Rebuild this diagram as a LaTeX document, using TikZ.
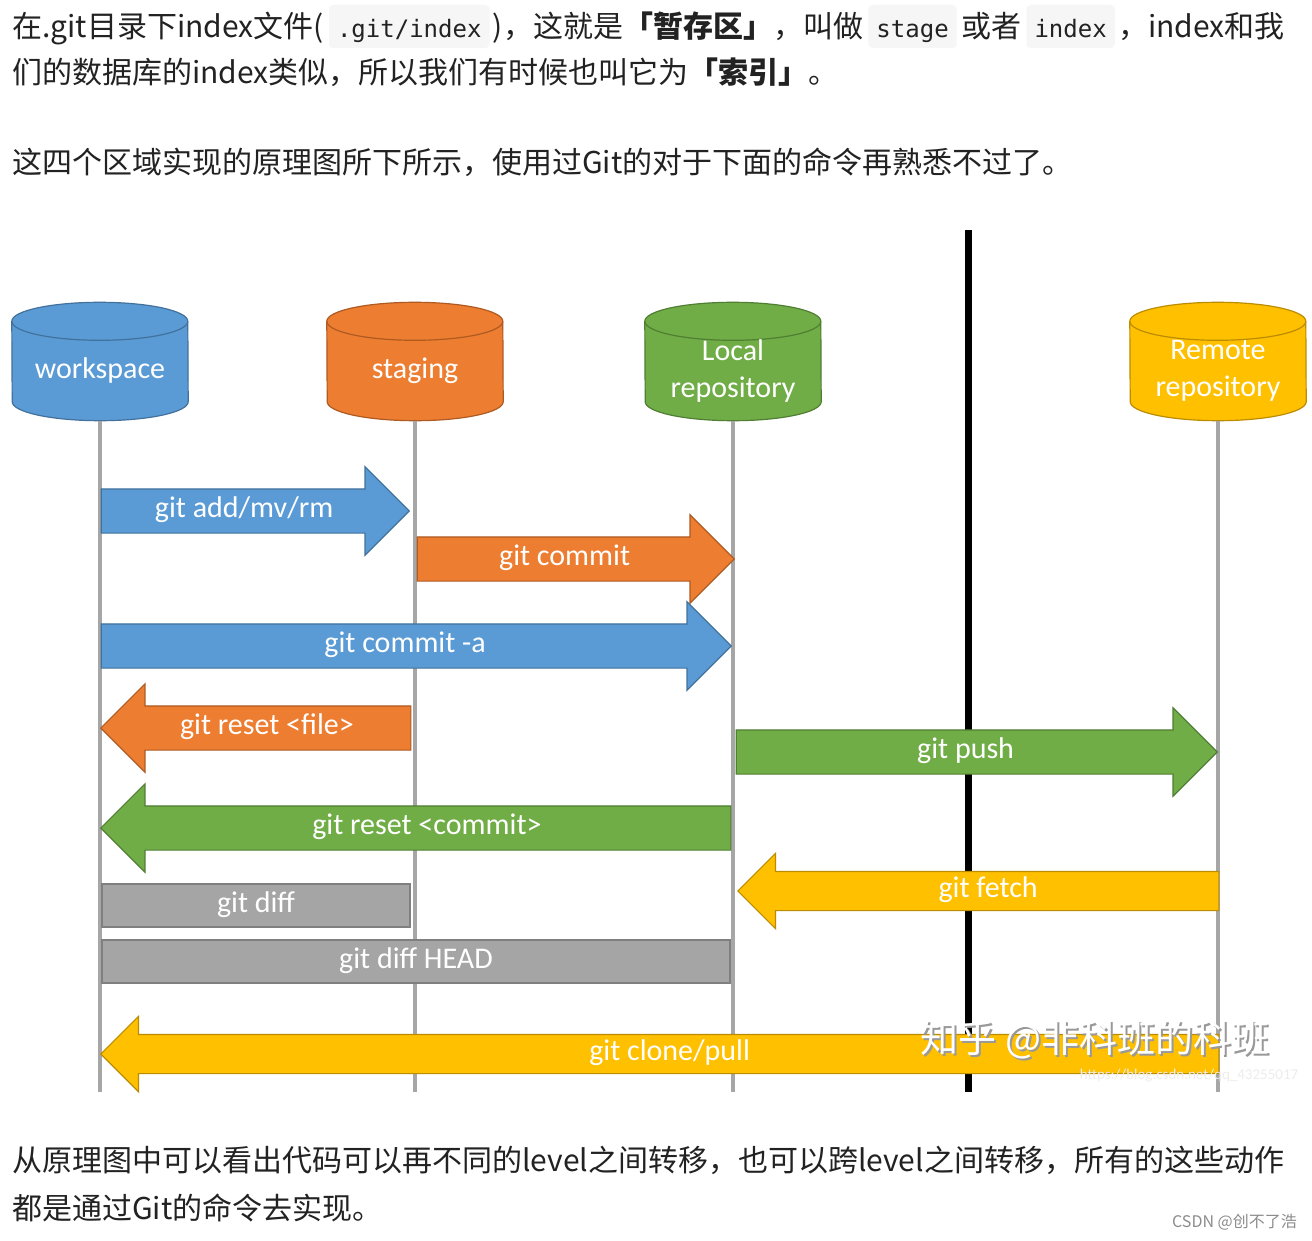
\documentclass[tikz,border=0pt]{standalone}
\usepackage{fontspec}
\setmainfont{Noto Sans CJK SC}
\newfontfamily\slidefont{Carlito}
\newfontfamily\codefont{DejaVu Sans Mono}
\usetikzlibrary{shapes.arrows,positioning}

\definecolor{wsblue}{HTML}{5B9BD5}
\definecolor{wsblueline}{HTML}{41719C}
\definecolor{stgorange}{HTML}{ED7D31}
\definecolor{stgorangeline}{HTML}{AE5A21}
\definecolor{repogreen}{HTML}{70AD47}
\definecolor{repogreenline}{HTML}{507E32}
\definecolor{remoteyellow}{HTML}{FFC000}
\definecolor{remoteyellowline}{HTML}{BC8C00}
\definecolor{diffgray}{HTML}{A5A5A5}
\definecolor{diffgrayline}{HTML}{7F7F7F}
\definecolor{lifegray}{HTML}{A6A6A6}
\definecolor{codebg}{HTML}{F6F6F6}
\definecolor{bodytext}{HTML}{222222}

\pgfdeclarelayer{background}
\pgfsetlayers{background,main}

% drum round the body of an area node: #1 node, #2 fill, #3 outline
\newcommand\storedrum[3]{%
  \filldraw[fill=#2,draw=#3,line width=1.2pt] (#1.north west)
    arc[start angle=180,end angle=0,x radius=88pt,y radius=19pt]
    -- ([yshift=19pt]#1.south east)
    arc[start angle=0,end angle=-180,x radius=88pt,y radius=19pt] -- cycle;
  \draw[#3,line width=1.2pt] (#1.north west)
    arc[start angle=180,end angle=360,x radius=88pt,y radius=19pt];}

\begin{document}
\begin{tikzpicture}
[x=1pt,y=-1pt,
 para/.style={anchor=base west,inner sep=0pt,text=bodytext,font=\fontsize{30}{36}\selectfont},
 codebox/.style={fill=codebg,rounded corners=4pt,inner xsep=8pt,inner ysep=0pt,text height=33pt,text depth=10pt,text=bodytext,font=\codefont\fontsize{24}{28}\selectfont},
 store/.style={rectangle,minimum width=176pt,minimum height=99pt,inner sep=0pt,text=white,align=center,font=\slidefont\fontsize{30}{37}\selectfont},
 cmd/.style 2 args={single arrow,single arrow head extend=22pt,fill=#1,draw=#2,line width=1.2pt,inner xsep=0pt,inner ysep=8pt,text height=20pt,text depth=7pt,text=white,font=\slidefont\fontsize{30}{36}\selectfont},
 back/.style={shape border rotate=180},
 slim/.style={inner ysep=5.5pt,single arrow head extend=18pt},
 diffbar/.style={rectangle,fill=diffgray,draw=diffgrayline,line width=1.2pt,inner ysep=8pt,text height=20pt,text depth=7pt,text=white,font=\slidefont\fontsize{30}{36}\selectfont},
 lifeline/.style={lifegray,line width=4pt},
 separator/.style={black,line width=7pt}]

\useasboundingbox (0,0) rectangle (1312,1241);
\begin{pgfonlayer}{background}
\fill[white] (0,0) rectangle (1312,1241);
\end{pgfonlayer}

% text above the picture
\node[para] (l1a) at (12,38) {在.git目录下index文件(};
\node[codebox,base right=5pt of l1a] (c1) {.git/index};
\node[para,base right=3pt of c1] (l1b) {)，这就是{\bfseries「暂存区」}，叫做};
\node[codebox,base right=5pt of l1b] (c2) {stage};
\node[para,base right=4pt of c2] (l1c) {或者};
\node[codebox,base right=5pt of l1c] (c3) {index};
\node[para,base right=3pt of c3] (l1d) {，index和我};
\node[para] (l2) at (12,84) {们的数据库的index类似，所以我们有时候也叫它为{\bfseries「索引」}。};
\node[para] (l3) at (12,174) {这四个区域实现的原理图所下所示，使用过Git的对于下面的命令再熟悉不过了。};

% the four areas
\node[store] (ws) at (100,371) {workspace};
\node[store] (st) at (415,371) {staging};
\node[store] (lr) at (733,371) {Local\\repository};
\node[store] (rr) at (1218,371) {Remote\\repository};

\coordinate (sepTop) at (968,230);
\coordinate (sepBot) at (968,1092);
\begin{pgfonlayer}{background}
\storedrum{ws}{wsblue}{wsblueline}
\storedrum{st}{stgorange}{stgorangeline}
\storedrum{lr}{repogreen}{repogreenline}
\storedrum{rr}{remoteyellow}{remoteyellowline}
\draw[separator] (sepTop) -- (sepBot);
\foreach \area in {ws,st,lr,rr}
  \draw[lifeline] (\area.south) -- (\area.south |- sepBot);
\end{pgfonlayer}

% commands
\node[cmd={wsblue}{wsblueline},anchor=tip,minimum height=308pt] (add) at (410,511) {git add/mv/rm};
\node[cmd={stgorange}{stgorangeline},anchor=tip,minimum height=317pt] (commit) at (735,559) {git commit};
\node[cmd={wsblue}{wsblueline},anchor=tip,minimum height=630pt] (commita) at (732,646) {git commit -a};
\node[cmd={stgorange}{stgorangeline},back,anchor=tip,minimum height=310pt] (resetfile) at (100,728) {git reset <file>};
\node[cmd={repogreen}{repogreenline},anchor=tip,minimum height=481pt] (push) at (1218,752) {git push};
\node[cmd={repogreen}{repogreenline},back,anchor=tip,minimum height=630pt] (resetcommit) at (100,828) {git reset <commit>};
\node[cmd={remoteyellow}{remoteyellowline},back,slim,anchor=tip,minimum height=481pt] (fetch) at (737,891) {git fetch};
\node[diffbar,minimum width=308pt] (diff) at (256,905.5) {git diff};
\node[diffbar,minimum width=628pt] (diffhead) at (416,961.5) {git diff HEAD};
\node[cmd={remoteyellow}{remoteyellowline},back,slim,anchor=tip,minimum height=1118pt] (clone) at (100,1054) {git clone/pull};

% watermarks
\node[text=black!40,font=\fontsize{38}{40}\selectfont] (zhihushadow) at (1097,1042) {知乎 @非科班的科班};
\node[text=white,font=\fontsize{38}{40}\selectfont] (zhihu) at (1095,1040) {知乎 @非科班的科班};
\node[text=black!7,font=\slidefont\fontsize{15}{18}\selectfont] (url) at (1189,1076) {https://blog.csdn.net/qq\_43255017};

% text below the picture
\node[para] (l4) at (12,1171) {从原理图中可以看出代码可以再不同的level之间转移，也可以跨level之间转移，所有的这些动作};
\node[para] (l5) at (12,1219) {都是通过Git的命令去实现。};
\node[anchor=east,inner sep=0pt,text=black!45,font=\fontsize{16}{18}\selectfont] (csdn) at (1297,1222) {CSDN @创不了浩};

\end{tikzpicture}
\end{document}
